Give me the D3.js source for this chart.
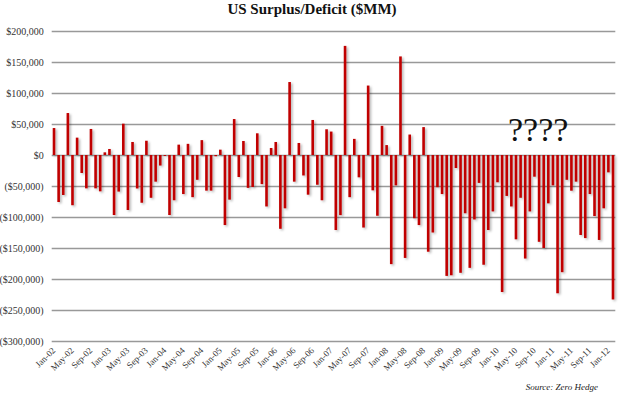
<!DOCTYPE html>
<html>
<head>
<meta charset="utf-8">
<script src="https://cdn.jsdelivr.net/npm/d3@7"></script>
<style>
  body { margin: 0; background: #fff; }
  svg { display: block; }
</style>
</head>
<body>
<div id="chart"></div>
<script>
// months Jan-02 .. Feb-12
const monthNames = ['Jan','Feb','Mar','Apr','May','Jun','Jul','Aug','Sep','Oct','Nov','Dec'];
const years = ['02','03','04','05','06','07','08','09','10','11','12'];
const months = [];
years.forEach(yr => monthNames.forEach(m => months.push(m + '-' + yr)));
months.splice(122); // data stops at Feb-12

// monthly surplus / deficit, $MM
const balance = [
	43500, -75800, -64500, 67700, -81000, 28000, -29000, -53800, 42000, -53800, -58600, 4300,
	9700, -96800, -59000, 50500, -88700, 21000, -54000, -77000, 23000, -69000, -43000, -17000,
	-1500, -96800, -73000, 16700, -63000, 18000, -68000, -40000, 24000, -57500, -57500, -2000,
	8600, -113000, -72000, 58000, -35500, 22600, -53000, -51600, 35000, -47000, -83000, 11300,
	21000, -119000, -86000, 117700, -43000, 19400, -33000, -64000, 56500, -48000, -73000, 41500,
	37800, -121000, -97000, 176000, -68000, 26000, -36000, -117000, 112000, -57000, -98000, 47000,
	16000, -176000, -49000, 159000, -166000, 33000, -102000, -113000, 45000, -156000, -125000, -52000,
	-63000, -195000, -194000, -21000, -190000, -94000, -182000, -104000, -45000, -177000, -121000, -91000,
	-44000, -221000, -66000, -83000, -136000, -69000, -167000, -91000, -35000, -140000, -150000, -78000,
	-49000, -223000, -189000, -40000, -57600, -43000, -129000, -134000, -63000, -98500, -137000, -86000,
	-28000, -233000
];

const yTicks = [200000, 150000, 100000, 50000, 0, -50000, -100000, -150000, -200000, -250000, -300000];
const xTickLabels = months.filter((d, i) => i % 4 === 0);

const W = 620, H = 396;
const margin = { top: 31, right: 4.7, bottom: 55, left: 51.7 };

const svg = d3.select('#chart')
	.append('svg')
	.attr('width', W)
	.attr('height', H);

const defs = svg.append('defs');
defs.append('filter')
	.attr('id', 'shadow')
	.attr('x', '-100%').attr('y', '-5%')
	.attr('width', '400%').attr('height', '115%')
	.append('feDropShadow')
	.attr('dx', 1.6).attr('dy', 1.4)
	.attr('stdDeviation', 0.8)
	.attr('flood-color', '#000')
	.attr('flood-opacity', 0.3);

const x = d3.scaleBand()
	.domain(months)
	.range([margin.left, W - margin.right])
	.padding(0);

const y = d3.scaleLinear()
	.domain([-300000, 200000])
	.range([H - margin.bottom, margin.top]);

const fmt = v => {
	const s = '$' + d3.format(',')(Math.abs(v));
	return v < 0 ? '(' + s + ')' : s;
};

// gridlines
svg.append('g')
	.attr('transform', `translate(${margin.left},0)`)
	.call(d3.axisLeft(y).tickValues(yTicks).tickSize(-(W - margin.right - margin.left)).tickFormat(''))
	.call(g => g.select('.domain').remove())
	.call(g => g.selectAll('line').attr('stroke', '#999').attr('stroke-width', 1.3));

// y labels
svg.append('g')
	.attr('transform', `translate(${margin.left - 8},0)`)
	.call(d3.axisLeft(y).tickValues(yTicks).tickSize(0).tickFormat(fmt))
	.call(g => g.select('.domain').remove())
	.call(g => g.selectAll('text')
		.attr('x', 0)
		.attr('font-family', '"Liberation Serif", "DejaVu Serif", serif')
		.attr('font-size', 10)
		.attr('fill', '#333'));

// bars
const bw = 2.6;
svg.append('g')
	.attr('filter', 'url(#shadow)')
	.selectAll('rect')
	.data(balance)
	.join('rect')
	.attr('x', (d, i) => x(months[i]) + x.bandwidth() / 2 - bw / 2)
	.attr('y', d => y(Math.max(0, d)))
	.attr('width', bw)
	.attr('height', d => Math.abs(y(d) - y(0)))
	.attr('fill', '#c00000');

// x labels
svg.append('g')
	.selectAll('text')
	.data(xTickLabels)
	.join('text')
	.attr('transform', d => `translate(${x(d) + x.bandwidth() / 2 + 2},${H - margin.bottom + 10}) rotate(-45)`)
	.attr('text-anchor', 'end')
	.attr('font-family', '"Liberation Serif", "DejaVu Serif", serif')
	.attr('font-size', 9)
	.attr('fill', '#333')
	.text(d => d);

// title
svg.append('text')
	.attr('x', 312)
	.attr('y', 14)
	.attr('text-anchor', 'middle')
	.attr('font-family', '"Liberation Serif", "DejaVu Serif", serif')
	.attr('font-weight', 'bold')
	.attr('font-size', 15)
	.attr('fill', '#111')
	.text('US Surplus/Deficit ($MM)');

svg.append('text')
	.attr('x', 508)
	.attr('y', 141)
	.attr('font-family', '"Liberation Serif", "DejaVu Serif", serif')
	.attr('font-size', 34)
	.attr('fill', '#111')
	.text('????');

svg.append('text')
	.attr('x', 598)
	.attr('y', 390)
	.attr('text-anchor', 'end')
	.attr('font-family', '"Liberation Serif", "DejaVu Serif", serif')
	.attr('font-style', 'italic')
	.attr('font-size', 9)
	.attr('fill', '#222')
	.text('Source: Zero Hedge');
</script>
</body>
</html>
